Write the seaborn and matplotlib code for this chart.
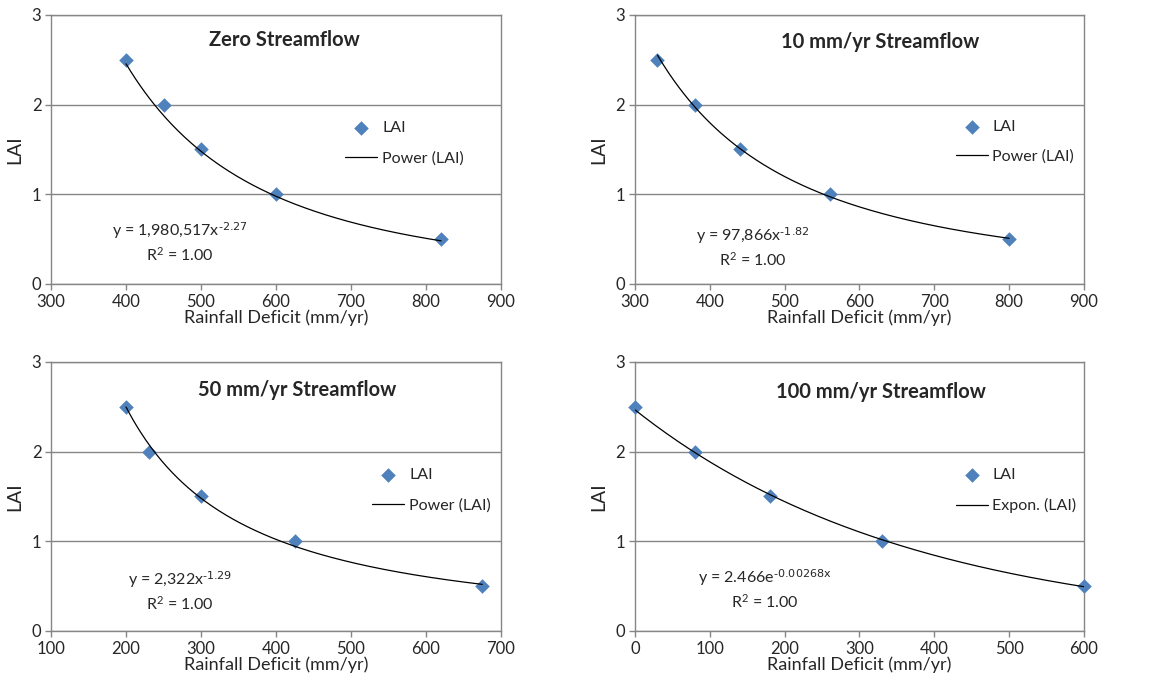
import numpy as np
import pandas as pd
import matplotlib
matplotlib.use("Agg")
import matplotlib.pyplot as plt
import seaborn as sns

sns.set_theme(style="white")
plt.rcParams.update({
    "font.family": ["Lato", "DejaVu Sans"],
    "mathtext.default": "regular",
    "axes.unicode_minus": False,
    "axes.edgecolor": "#868686",
    "axes.linewidth": 1.0,
})

# ---- data ----
titles = ["Zero Streamflow", "10 mm/yr Streamflow",
          "50 mm/yr Streamflow", "100 mm/yr Streamflow"]
lai = [2.5, 2.0, 1.5, 1.0, 0.5]
deficit_zero = [400, 450, 500, 600, 820]
deficit_10 = [330, 380, 440, 560, 800]
deficit_50 = [200, 230, 300, 425, 675]
deficit_100 = [0, 80, 180, 330, 600]

# trendline coefficients as printed on the chart
fit_kind = ["power", "power", "power", "expon"]
fit_a = [1980517, 97866, 2322, 2.466]
fit_b = [-2.27, -1.82, -1.29, -0.00268]
eq_text = [r"y = 1,980,517x$^{\text{-2.27}}$", r"y = 97,866x$^{\text{-1.82}}$",
           r"y = 2,322x$^{\text{-1.29}}$", r"y = 2.466e$^{\text{-0.00268x}}$"]
trend_labels = ["Power (LAI)", "Power (LAI)", "Power (LAI)", "Expon. (LAI)"]
xlims = [(300, 900), (300, 900), (100, 700), (0, 600)]
xticks = [np.arange(300, 901, 100), np.arange(300, 901, 100),
          np.arange(100, 701, 100), np.arange(0, 601, 100)]

deficits = [deficit_zero, deficit_10, deficit_50, deficit_100]

# layout in figure fractions
positions = [
    [0.0439, 0.5848, 0.3869, 0.3933],
    [0.546, 0.5848, 0.386, 0.3933],
    [0.0439, 0.0775, 0.3869, 0.3933],
    [0.546, 0.0775, 0.386, 0.3933],
]
title_xy = [(0.518, 0.907), (0.546, 0.90), (0.547, 0.896), (0.548, 0.888)]
eq_xy = [(0.287, 0.20), (0.263, 0.18), (0.287, 0.19), (0.29, 0.20)]
legend_anchor = [(0.64, 0.63), (0.70, 0.635), (0.70, 0.63), (0.70, 0.63)]

blue = "#4F81BD"
fig = plt.figure(figsize=(11.63, 6.84), dpi=100)

for i in range(4):
    ax = fig.add_axes(positions[i])
    df = pd.DataFrame({"deficit": deficits[i], "LAI": lai})
    xs = np.linspace(min(deficits[i]), max(deficits[i]), 200)
    if fit_kind[i] == "power":
        ys = fit_a[i] * xs ** fit_b[i]
    else:
        ys = fit_a[i] * np.exp(fit_b[i] * xs)
    trend = pd.DataFrame({"deficit": xs, "LAI": ys})

    sns.scatterplot(data=df, x="deficit", y="LAI", marker="D", s=55,
                    color=blue, edgecolor=blue, linewidth=0, ax=ax,
                    label="LAI", zorder=3, clip_on=False)
    sns.lineplot(data=trend, x="deficit", y="LAI", color="black",
                 linewidth=0.9, ax=ax, label=trend_labels[i], zorder=4)

    ax.set_xlim(*xlims[i])
    ax.set_ylim(0, 3)
    ax.set_xticks(xticks[i])
    ax.set_yticks([0, 1, 2, 3])
    ax.grid(True, axis="y", color="#868686", linewidth=1.0)
    ax.grid(False, axis="x")
    ax.set_axisbelow(True)
    ax.tick_params(axis="both", direction="out", length=4, width=1,
                   color="#868686", labelsize=12, pad=3,
                   bottom=True, left=True)
    ax.set_xlabel("Rainfall Deficit (mm/yr)", fontsize=13, labelpad=0)
    ax.set_ylabel("LAI", fontsize=14, labelpad=6)

    ax.text(*title_xy[i], titles[i], transform=ax.transAxes,
            ha="center", va="center", fontsize=14.5, fontweight="bold")
    ax.text(eq_xy[i][0], eq_xy[i][1], eq_text[i], transform=ax.transAxes,
            ha="center", va="center", fontsize=11.5)
    ax.text(eq_xy[i][0], eq_xy[i][1] - 0.09, r"R$^{2}$ = 1.00",
            transform=ax.transAxes, ha="center", va="center", fontsize=11.5)

    ax.legend(loc="upper left", bbox_to_anchor=legend_anchor[i],
              frameon=False, fontsize=11.5, handlelength=2.0,
              handletextpad=0.3, labelspacing=1.0, borderaxespad=0)

fig.savefig("out.png", dpi=100)
